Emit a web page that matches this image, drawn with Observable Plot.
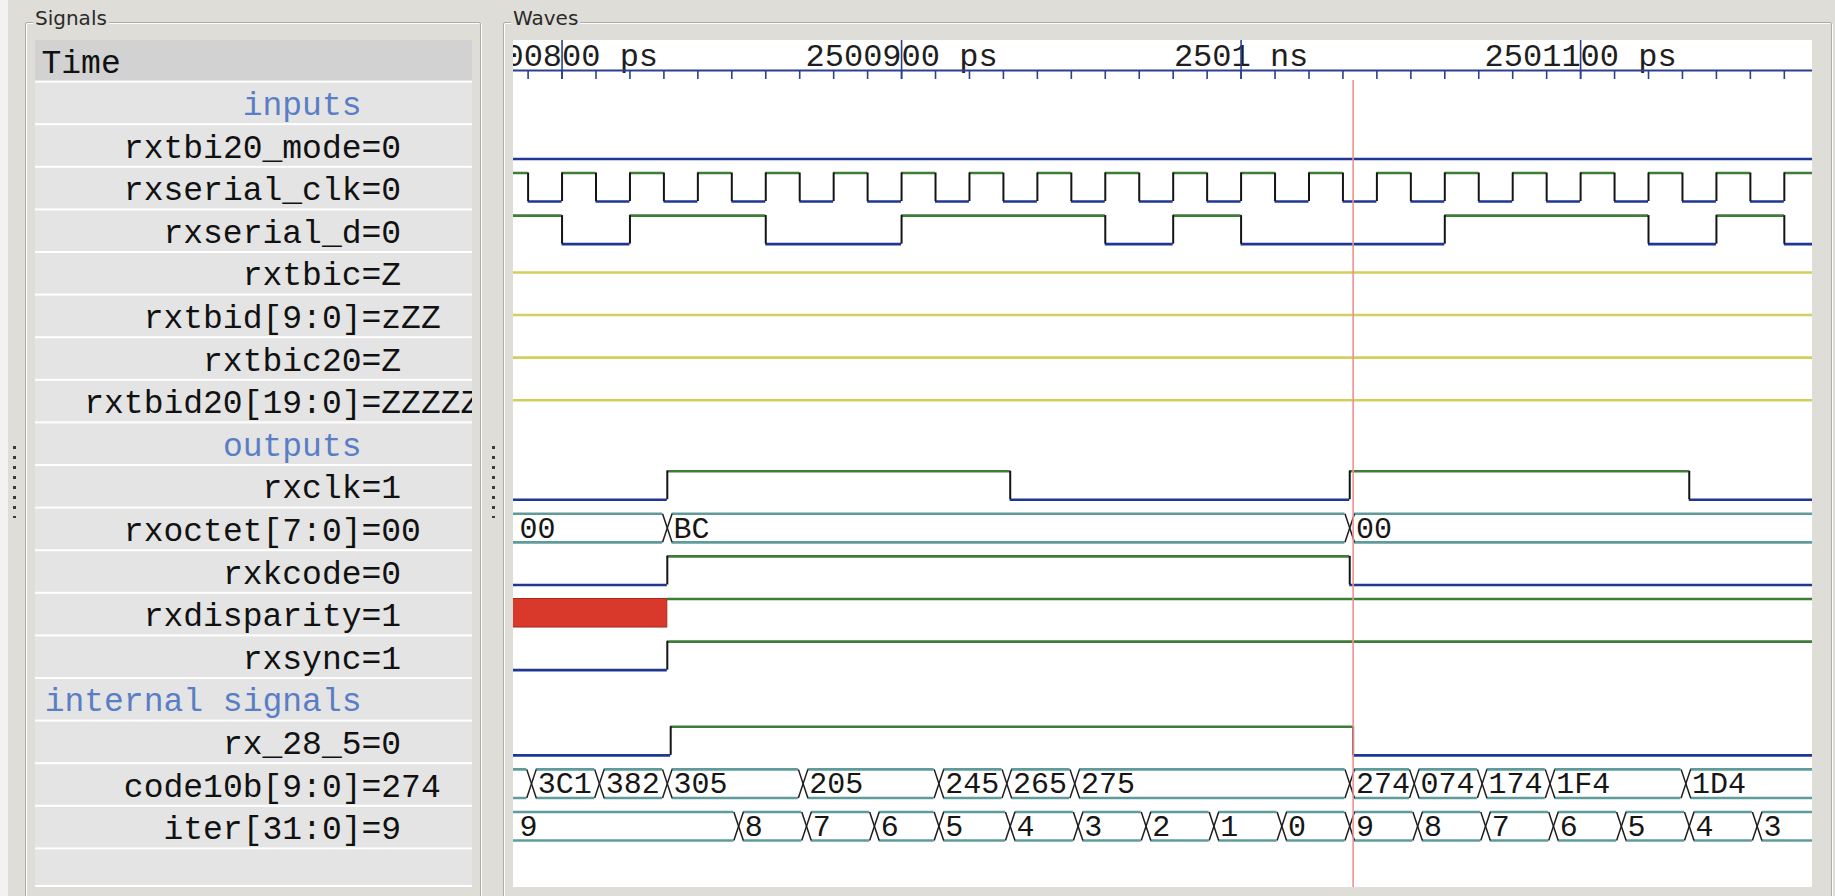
<!DOCTYPE html>
<html>
<head>
<meta charset="utf-8">
<script src="https://cdn.jsdelivr.net/npm/d3@7"></script>
<script src="https://cdn.jsdelivr.net/npm/@observablehq/plot@0.6"></script>
<style>
  html, body { margin: 0; padding: 0; }
  body { width: 1835px; height: 896px; background: #dfddd8; position: relative; overflow: hidden; font-family: "DejaVu Sans", sans-serif; }
  .strip { position: absolute; left: 0; top: 0; width: 8px; height: 896px; background: #f3f2f0; }
  .frame { position: absolute; border: 1px solid #aeaba6; box-shadow: inset 1px 1px 0 #fff, 1px 1px 0 #fff; border-radius: 2px; }
  .flabel { position: absolute; font-size: 20px; color: #2a2a2a; background: #dfddd8; padding: 0 2px; line-height: 24px; }
  #signals { position: absolute; left: 35px; top: 40px; width: 437px; height: 847px; overflow: hidden; }
  #waves { position: absolute; left: 513px; top: 40px; width: 1299px; height: 847px; overflow: hidden; background: #fff; }
  .handle { position: absolute; width: 3px; height: 72px; background: repeating-linear-gradient(to bottom, #3a3a3a 0 3px, transparent 3px 10px); }
  svg { display: block; }
</style>
</head>
<body>
<div class="strip"></div>
<div class="frame" style="left:25px; top:22px; width:454px; height:890px;"></div>
<div class="flabel" style="left:33px; top:6px;">Signals</div>
<div class="frame" style="left:503px; top:22px; width:1327px; height:890px;"></div>
<div class="flabel" style="left:511px; top:6px;">Waves</div>
<div class="handle" style="left:13px; top:446px;"></div>
<div class="handle" style="left:492px; top:446px;"></div>
<div id="signals"></div>
<div id="waves"></div>
<script>
// ---------------- data ----------------
const signalNames = ["Time", "inputs", "rxtbi20_mode", "rxserial_clk", "rxserial_d", "rxtbic", "rxtbid[9:0]", "rxtbic20", "rxtbid20[19:0]", "outputs", "rxclk", "rxoctet[7:0]", "rxkcode", "rxdisparity", "rxsync", "internal signals", "rx_28_5", "code10b[9:0]", "iter[31:0]"];
const signalValues = [null, null, "0", "0", "0", "Z", "zZZ", "Z", "ZZZZZ", null, "1", "00", "0", "1", "1", null, "0", "274", "9"];
const groupHeaders = ["inputs", "outputs", "internal signals"];

const majorTickTimes = [2500800, 2500900, 2501000, 2501100];
const majorTickLabels = ["2500800 ps", "2500900 ps", "2501 ns", "2501100 ps"];
const cursorTime = 2501033;

// each wave: list of [change time (ps), value]
const rxtbi20_mode = [[2500780, 0]];
const rxserial_clk = [[2500780,1],[2500790,0],[2500800,1],[2500810,0],[2500820,1],[2500830,0],[2500840,1],[2500850,0],[2500860,1],[2500870,0],[2500880,1],[2500890,0],[2500900,1],[2500910,0],[2500920,1],[2500930,0],[2500940,1],[2500950,0],[2500960,1],[2500970,0],[2500980,1],[2500990,0],[2501000,1],[2501010,0],[2501020,1],[2501030,0],[2501040,1],[2501050,0],[2501060,1],[2501070,0],[2501080,1],[2501090,0],[2501100,1],[2501110,0],[2501120,1],[2501130,0],[2501140,1],[2501150,0],[2501160,1],[2501170,0]];
const rxserial_d = [[2500780,1],[2500800,0],[2500820,1],[2500860,0],[2500900,1],[2500960,0],[2500980,1],[2501000,0],[2501060,1],[2501120,0],[2501140,1],[2501160,0]];
const rxtbic = [[2500780, "z"]];
const rxtbid = [[2500780, "z"]];
const rxtbic20 = [[2500780, "z"]];
const rxtbid20 = [[2500780, "z"]];
const rxclk = [[2500780,0],[2500831,1],[2500932,0],[2501032,1],[2501132,0]];
const rxoctet = [[2500780,"00"],[2500831,"BC"],[2501032,"00"]];
const rxkcode = [[2500780,0],[2500831,1],[2501032,0]];
const rxdisparity = [[2500780,"x"],[2500831,1]];
const rxsync = [[2500780,0],[2500831,1]];
const rx_28_5 = [[2500780,0],[2500832,1],[2501033,0]];
const code10b = [[2500780,""],[2500791,"3C1"],[2500811,"382"],[2500831,"305"],[2500871,"205"],[2500911,"245"],[2500931,"265"],[2500951,"275"],[2501032,"274"],[2501051,"074"],[2501071,"174"],[2501091,"1F4"],[2501131,"1D4"]];
const iter = [[2500780,"9"],[2500852,"8"],[2500872,"7"],[2500892,"6"],[2500911,"5"],[2500932,"4"],[2500952,"3"],[2500972,"2"],[2500992,"1"],[2501012,"0"],[2501032,"9"],[2501052,"8"],[2501072,"7"],[2501092,"6"],[2501112,"5"],[2501132,"4"],[2501152,"3"]];

const waveRows = [
  {name: "rxtbi20_mode", kind: "bit", data: rxtbi20_mode},
  {name: "rxserial_clk", kind: "bit", data: rxserial_clk},
  {name: "rxserial_d", kind: "bit", data: rxserial_d},
  {name: "rxtbic", kind: "z", data: rxtbic},
  {name: "rxtbid[9:0]", kind: "z", data: rxtbid},
  {name: "rxtbic20", kind: "z", data: rxtbic20},
  {name: "rxtbid20[19:0]", kind: "z", data: rxtbid20},
  {name: "rxclk", kind: "bit", data: rxclk},
  {name: "rxoctet[7:0]", kind: "bus", data: rxoctet},
  {name: "rxkcode", kind: "bit", data: rxkcode},
  {name: "rxdisparity", kind: "bit", data: rxdisparity},
  {name: "rxsync", kind: "bit", data: rxsync},
  {name: "rx_28_5", kind: "bit", data: rx_28_5},
  {name: "code10b[9:0]", kind: "bus", data: code10b},
  {name: "iter[31:0]", kind: "bus", data: iter}
];

// ---------------- view / layout ----------------
const viewStart = 2500785.7, viewEnd = 2501168.3, T_END = 2501180;
const W = 1299, H = 847, PANEL_W = 437, ROW_PX = 42.6;
const YMAX = H / ROW_PX;
const PXPS = W / (viewEnd - viewStart);
const HI = 0.11, LO = 0.78, MID = 0.445;
const D = 1.4; // half width of bus transition cross (ps)

const C_HI = "#3f7c37", C_LO = "#1f3793", C_EDGE = "#141414", C_Z = "#d3cf5d",
      C_BUS = "#5f9b9b", C_AXIS = "#2d3f8f", C_CURSOR = "#f29090", C_X = "#d8392b";

// ---------------- derive mark data ----------------
const hiSegs = [], loSegs = [], edges = [], xRects = [], busLines = [], busX = [], busText = [], zLines = [];
for (const w of waveRows) {
  const row = signalNames.indexOf(w.name);
  const ch = w.data;
  ch.forEach(([t, v], k) => {
    const end = k + 1 < ch.length ? ch[k + 1][0] : T_END;
    if (w.kind === "bit") {
      if (v === "x") xRects.push({row, t1: t, t2: end});
      else (v ? hiSegs : loSegs).push({row, t1: t, t2: end});
      if (k > 0) {
        const pv = ch[k - 1][1];
        if (pv !== "x" && pv !== v) edges.push({row, t});
      }
    } else if (w.kind === "z") {
      zLines.push({row, t1: t, t2: end});
    } else {
      const a = k > 0 ? t + D : t;
      const b = k + 1 < ch.length ? end - D : end;
      busLines.push({t1: a, t2: b, y: row + HI}, {t1: a, t2: b, y: row + LO});
      if (k > 0) {
        busX.push({x1: t - D, y1: row + HI, x2: t + D, y2: row + LO},
                  {x1: t - D, y1: row + LO, x2: t + D, y2: row + HI});
      }
      const vs = Math.max(a, viewStart), ve = Math.min(b, viewEnd);
      if (v && (ve - vs) * PXPS > v.length * 16 + 2) {
        const clippedStart = a <= viewStart;
        busText.push({row, v, t: clippedStart ? viewStart + 6 / PXPS : a + 1.5 / PXPS});
      }
    }
  });
}
const minorTicks = d3.range(2500790, 2501170, 10);

// ---------------- waves plot ----------------
const waves = Plot.plot({
  width: W, height: H,
  marginTop: 0, marginRight: 0, marginBottom: 0, marginLeft: 0,
  x: {domain: [viewStart, viewEnd], range: [0, W], axis: null},
  y: {domain: [0, YMAX], range: [0, H], axis: null},
  style: {background: "#ffffff", overflow: "hidden"},
  marks: [
    Plot.text(majorTickTimes, {x: d => d, y: 0.59, text: (d, i) => majorTickLabels[i], textAnchor: "middle", lineAnchor: "bottom", fontSize: 32, fontFamily: "Liberation Mono", fill: "#1e1e1e", clip: true}),
    Plot.ruleY([0.704], {stroke: C_AXIS, strokeWidth: 2.2}),
    Plot.ruleX(minorTicks, {x: d => d, y1: 0.704, y2: 0.915, stroke: C_AXIS, strokeWidth: 1.6}),
    Plot.ruleX(majorTickTimes, {x: d => d, y1: 0, y2: 0.915, stroke: C_AXIS, strokeWidth: 1.6}),
    Plot.ruleY(zLines, {y: d => d.row + MID, x1: "t1", x2: "t2", stroke: C_Z, strokeWidth: 2.6, clip: true}),
    Plot.rect(xRects, {x1: "t1", x2: "t2", y1: d => d.row + HI, y2: d => d.row + LO, fill: C_X, stroke: "#a9281d", strokeWidth: 1, clip: true}),
    Plot.ruleY(hiSegs, {y: d => d.row + HI, x1: "t1", x2: "t2", stroke: C_HI, strokeWidth: 2.6, clip: true}),
    Plot.ruleY(loSegs, {y: d => d.row + LO, x1: "t1", x2: "t2", stroke: C_LO, strokeWidth: 2.6, clip: true}),
    Plot.ruleX(edges, {x: "t", y1: d => d.row + HI, y2: d => d.row + LO, stroke: C_EDGE, strokeWidth: 2, clip: true}),
    Plot.ruleY(busLines, {y: "y", x1: "t1", x2: "t2", stroke: C_BUS, strokeWidth: 2.6, clip: true}),
    Plot.link(busX, {x1: "x1", y1: "y1", x2: "x2", y2: "y2", stroke: "#1e1e1e", strokeWidth: 1.5, clip: true}),
    Plot.text(busText, {x: "t", y: d => d.row + MID, text: "v", textAnchor: "start", lineAnchor: "middle", fontSize: 30, fontFamily: "Liberation Mono", fill: "#161616", clip: true}),
    Plot.ruleX([cursorTime], {x: d => d, y1: 0.94, y2: YMAX, stroke: C_CURSOR, strokeWidth: 1.6})
  ]
});
document.getElementById("waves").appendChild(waves);

// ---------------- signals panel ----------------
const panelRows = signalNames.map((name, i) => ({i, name, value: signalValues[i]})).concat([{i: signalNames.length, name: "", value: null}]);
const nameRows = panelRows.filter(d => d.i > 0 && d.name && !groupHeaders.includes(d.name));
const headRows = panelRows.filter(d => groupHeaders.includes(d.name));
const valueRows = panelRows.filter(d => d.value != null);

const panel = Plot.plot({
  width: PANEL_W, height: H,
  marginTop: 0, marginRight: 0, marginBottom: 0, marginLeft: 0,
  x: {domain: [0, PANEL_W], range: [0, PANEL_W], axis: null},
  y: {domain: [0, YMAX], range: [0, H], axis: null},
  style: {background: "#ffffff", overflow: "hidden"},
  marks: [
    Plot.rect(panelRows.filter(d => d.i === 0), {x1: () => 0, x2: () => PANEL_W, y1: d => d.i, y2: d => d.i + 1, insetBottom: 2, fill: "#d2d2d2"}),
    Plot.rect(panelRows.filter(d => d.i > 0), {x1: () => 0, x2: () => PANEL_W, y1: d => d.i, y2: d => Math.min(d.i + 1, YMAX), insetBottom: 2, fill: "#e4e4e4"}),
    Plot.text(panelRows.filter(d => d.i === 0), {x: () => 6, y: d => d.i + 0.77, text: "name", textAnchor: "start", lineAnchor: "bottom", fontSize: 33, fontFamily: "Liberation Mono", fill: "#111"}),
    Plot.text(nameRows, {x: () => 326, y: d => d.i + 0.75, text: "name", textAnchor: "end", lineAnchor: "bottom", fontSize: 33, fontFamily: "Liberation Mono", fill: "#111"}),
    Plot.text(headRows, {x: () => 326, y: d => d.i + 0.75, text: "name", textAnchor: "end", lineAnchor: "bottom", fontSize: 33, fontFamily: "Liberation Mono", fill: "#5a7ec6"}),
    Plot.text(valueRows, {x: () => 326, y: d => d.i + 0.75, text: d => "=" + d.value, textAnchor: "start", lineAnchor: "bottom", fontSize: 33, fontFamily: "Liberation Mono", fill: "#111"})
  ]
});
document.getElementById("signals").appendChild(panel);
</script>
</body>
</html>
